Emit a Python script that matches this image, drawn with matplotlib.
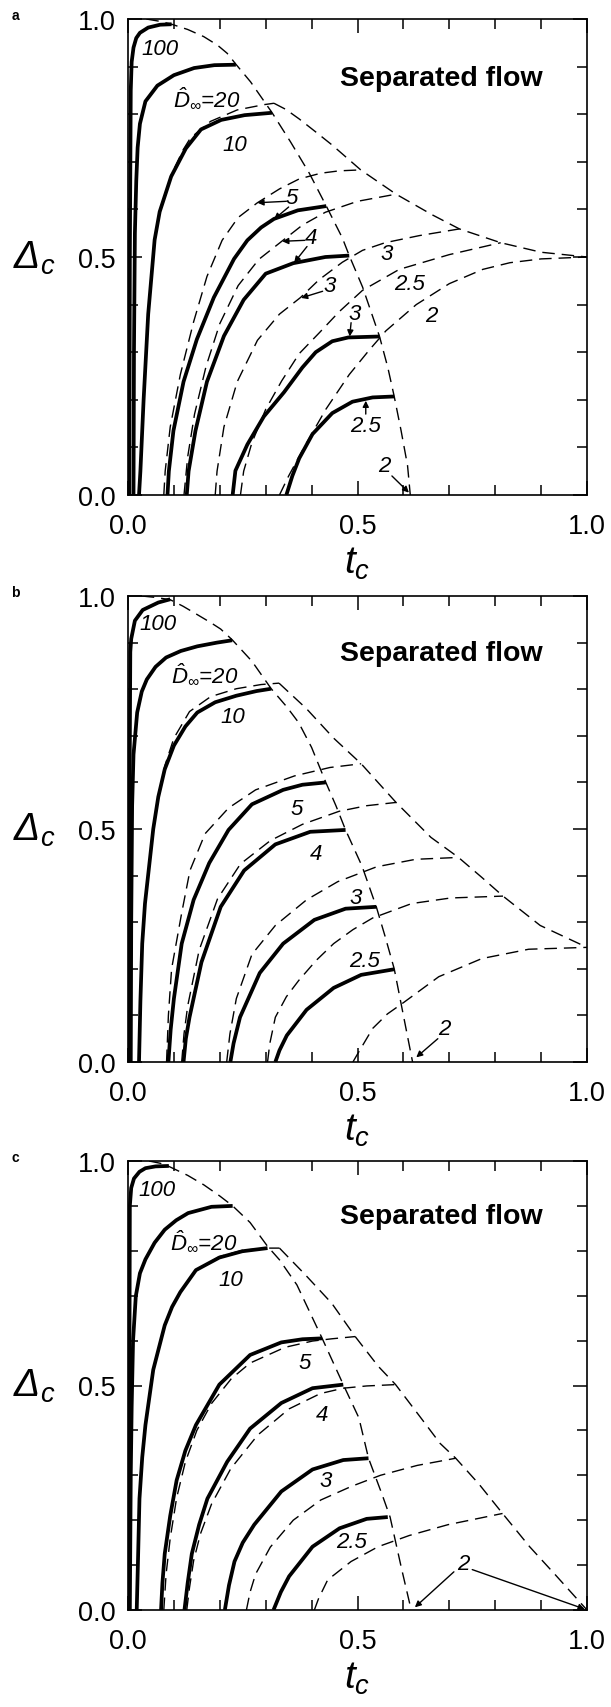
import numpy as np
import matplotlib
matplotlib.use("Agg")
import matplotlib.pyplot as plt
from matplotlib.ticker import MultipleLocator, FormatStrFormatter

plt.rcParams['font.family'] = ['Liberation Sans', 'DejaVu Sans']
plt.rcParams['mathtext.fontset'] = 'custom'
plt.rcParams['mathtext.rm'] = 'Liberation Sans:italic'
plt.rcParams['mathtext.it'] = 'Liberation Sans:italic'
plt.rcParams['mathtext.bf'] = 'Liberation Sans:bold'

# (t_c, Delta_c) points along each curve
# ---------------- panel a ----------------
a_s100 = [(0.003, 0.0), (0.004, 0.5), (0.006, 0.85), (0.008, 0.91), (0.012, 0.94), (0.018, 0.96),
          (0.026, 0.971), (0.044, 0.982), (0.07, 0.988), (0.095, 0.989)]
a_s20 = [(0.012, 0.0), (0.013, 0.3), (0.015, 0.55), (0.018, 0.66), (0.021, 0.73), (0.026, 0.78),
         (0.038, 0.827), (0.064, 0.86), (0.1, 0.882), (0.144, 0.897), (0.188, 0.903), (0.235, 0.904)]
a_s10 = [(0.024, 0.0), (0.027, 0.05), (0.034, 0.2), (0.044, 0.38), (0.058, 0.536), (0.069, 0.595),
         (0.094, 0.669), (0.126, 0.728), (0.159, 0.768), (0.203, 0.788), (0.254, 0.798), (0.314, 0.803)]
a_s5 = [(0.086, 0.0), (0.089, 0.05), (0.099, 0.135), (0.121, 0.238), (0.15, 0.327), (0.187, 0.415),
        (0.231, 0.496), (0.26, 0.535), (0.29, 0.562), (0.318, 0.58), (0.37, 0.598), (0.432, 0.607)]
a_s4 = [(0.128, 0.0), (0.132, 0.05), (0.147, 0.135), (0.172, 0.238), (0.209, 0.334), (0.252, 0.41),
        (0.3, 0.465), (0.36, 0.487), (0.43, 0.5), (0.482, 0.503)]
a_s3 = [(0.228, 0.0), (0.234, 0.051), (0.26, 0.106), (0.296, 0.165), (0.34, 0.216), (0.38, 0.268),
        (0.409, 0.3), (0.445, 0.323), (0.48, 0.331), (0.548, 0.333)]
a_s25 = [(0.345, 0.0), (0.358, 0.04), (0.373, 0.077), (0.402, 0.128), (0.445, 0.172), (0.489, 0.196),
         (0.533, 0.205), (0.58, 0.207)]

a_d10 = [(0.024, 0.0), (0.027, 0.05), (0.034, 0.2), (0.044, 0.38), (0.058, 0.536), (0.069, 0.595),
         (0.094, 0.672), (0.12, 0.725), (0.136, 0.75), (0.18, 0.785), (0.238, 0.809), (0.296, 0.82),
         (0.318, 0.823)]
a_d5 = [(0.078, 0.0), (0.081, 0.05), (0.092, 0.143), (0.114, 0.253), (0.143, 0.364), (0.172, 0.459),
        (0.205, 0.535), (0.24, 0.583), (0.282, 0.614), (0.33, 0.643), (0.373, 0.664), (0.42, 0.676),
        (0.46, 0.681), (0.507, 0.683)]
a_d4 = [(0.122, 0.0), (0.13, 0.08), (0.145, 0.17), (0.17, 0.27), (0.2, 0.36), (0.24, 0.44),
        (0.285, 0.495), (0.335, 0.533), (0.38, 0.567), (0.43, 0.594), (0.5, 0.617), (0.584, 0.632)]
a_d3 = [(0.19, 0.0), (0.194, 0.05), (0.209, 0.143), (0.238, 0.238), (0.282, 0.325), (0.33, 0.38),
        (0.376, 0.415), (0.416, 0.452), (0.467, 0.489), (0.511, 0.514), (0.56, 0.53), (0.635, 0.545),
        (0.722, 0.559)]
a_d25 = [(0.245, 0.0), (0.252, 0.05), (0.27, 0.11), (0.3, 0.18), (0.335, 0.24), (0.373, 0.297),
         (0.416, 0.34), (0.46, 0.385), (0.511, 0.43), (0.591, 0.474), (0.7, 0.505), (0.812, 0.53)]
a_d2 = [(0.33, 0.0), (0.35, 0.04), (0.387, 0.106), (0.431, 0.18), (0.482, 0.253), (0.526, 0.305),
        (0.562, 0.345), (0.628, 0.4), (0.7, 0.444), (0.773, 0.474), (0.832, 0.488), (0.9, 0.496),
        (1.0, 0.5)]
a_inner = [(0.04, 1.0), (0.07, 0.995), (0.095, 0.989), (0.13, 0.978), (0.165, 0.963), (0.195, 0.945),
           (0.216, 0.928), (0.235, 0.905), (0.267, 0.868), (0.314, 0.803), (0.354, 0.742),
           (0.395, 0.676), (0.432, 0.607), (0.467, 0.54), (0.482, 0.503), (0.511, 0.437),
           (0.548, 0.333), (0.566, 0.268), (0.58, 0.207), (0.595, 0.135), (0.609, 0.062), (0.615, 0.0)]
a_outer = [(0.318, 0.823), (0.344, 0.81), (0.373, 0.79), (0.41, 0.762), (0.445, 0.735), (0.507, 0.683),
           (0.584, 0.632), (0.664, 0.588), (0.722, 0.559), (0.812, 0.53), (0.9, 0.51), (1.0, 0.5)]
a_labels = [("100", 0.07, 0.937), ("D", 0.172, 0.834), ("10", 0.232, 0.737), ("5", 0.357, 0.625),
            ("4", 0.398, 0.542), ("3", 0.44, 0.44), ("3", 0.493, 0.382), ("3", 0.564, 0.507),
            ("2.5", 0.613, 0.444), ("2", 0.66, 0.378), ("2.5", 0.518, 0.146), ("2", 0.558, 0.062)]
a_arrows = [((0.345, 0.617), (0.282, 0.614)), ((0.35, 0.605), (0.318, 0.579)),
            ((0.385, 0.535), (0.336, 0.533)), ((0.39, 0.522), (0.362, 0.488)),
            ((0.424, 0.428), (0.377, 0.414)), ((0.486, 0.362), (0.483, 0.333)),
            ((0.518, 0.17), (0.518, 0.198)), ((0.575, 0.04), (0.612, 0.005))]

# ---------------- panel b ----------------
b_s100 = [(0.002, 0.0), (0.003, 0.5), (0.005, 0.88), (0.007, 0.908), (0.015, 0.947), (0.032, 0.97),
          (0.066, 0.986), (0.092, 0.993)]
b_s20 = [(0.006, 0.0), (0.007, 0.3), (0.009, 0.55), (0.012, 0.66), (0.02, 0.75), (0.03, 0.795),
         (0.041, 0.821), (0.06, 0.848), (0.083, 0.868), (0.115, 0.882), (0.151, 0.892), (0.194, 0.9),
         (0.227, 0.905)]
b_s10 = [(0.024, 0.0), (0.027, 0.13), (0.031, 0.254), (0.037, 0.34), (0.045, 0.411), (0.055, 0.5),
         (0.066, 0.569), (0.08, 0.628), (0.1, 0.679), (0.125, 0.72), (0.151, 0.75), (0.19, 0.772),
         (0.236, 0.786), (0.28, 0.796), (0.312, 0.801)]
b_s5 = [(0.088, 0.0), (0.093, 0.07), (0.1, 0.136), (0.117, 0.254), (0.143, 0.348), (0.177, 0.427),
        (0.219, 0.498), (0.27, 0.553), (0.338, 0.584), (0.38, 0.595), (0.431, 0.6)]
b_s4 = [(0.121, 0.0), (0.126, 0.05), (0.134, 0.096), (0.16, 0.214), (0.202, 0.333), (0.253, 0.411),
        (0.321, 0.467), (0.397, 0.494), (0.474, 0.498)]
b_s3 = [(0.223, 0.0), (0.23, 0.04), (0.244, 0.096), (0.287, 0.191), (0.338, 0.254), (0.406, 0.305),
        (0.474, 0.329), (0.541, 0.333)]
b_s25 = [(0.321, 0.0), (0.33, 0.025), (0.346, 0.057), (0.389, 0.112), (0.448, 0.159), (0.508, 0.187),
         (0.58, 0.199)]

b_d10 = [(0.024, 0.0), (0.027, 0.13), (0.031, 0.254), (0.037, 0.34), (0.045, 0.411), (0.055, 0.5),
         (0.066, 0.569), (0.08, 0.635), (0.1, 0.695), (0.134, 0.752), (0.18, 0.784), (0.236, 0.801),
         (0.29, 0.81), (0.329, 0.813)]
b_d5 = [(0.084, 0.0), (0.088, 0.1), (0.095, 0.2), (0.117, 0.32), (0.135, 0.411), (0.168, 0.49),
        (0.219, 0.545), (0.278, 0.584), (0.363, 0.614), (0.44, 0.632), (0.508, 0.64)]
b_d4 = [(0.117, 0.0), (0.122, 0.06), (0.13, 0.12), (0.155, 0.24), (0.195, 0.35), (0.245, 0.425),
        (0.31, 0.475), (0.38, 0.51), (0.46, 0.538), (0.52, 0.55), (0.584, 0.557)]
b_d3 = [(0.215, 0.0), (0.222, 0.06), (0.236, 0.136), (0.27, 0.231), (0.321, 0.293), (0.389, 0.348),
        (0.457, 0.387), (0.542, 0.419), (0.627, 0.435), (0.72, 0.439)]
b_d25 = [(0.304, 0.0), (0.309, 0.04), (0.321, 0.096), (0.345, 0.14), (0.372, 0.175), (0.41, 0.218),
         (0.448, 0.254), (0.49, 0.284), (0.533, 0.309), (0.618, 0.34), (0.703, 0.352), (0.817, 0.356)]
b_d2 = [(0.49, 0.0), (0.5, 0.017), (0.533, 0.072), (0.565, 0.103), (0.601, 0.128), (0.677, 0.183),
        (0.771, 0.222), (0.873, 0.242), (1.0, 0.246)]
b_inner = [(0.03, 1.0), (0.06, 0.997), (0.092, 0.992), (0.12, 0.978), (0.151, 0.96), (0.18, 0.943),
           (0.202, 0.929), (0.227, 0.906), (0.27, 0.86), (0.312, 0.801), (0.346, 0.762),
           (0.372, 0.728), (0.4, 0.675), (0.431, 0.6), (0.453, 0.55), (0.474, 0.498), (0.51, 0.42),
           (0.541, 0.333), (0.56, 0.27), (0.58, 0.2), (0.6, 0.1), (0.62, 0.0)]
b_outer = [(0.329, 0.813), (0.389, 0.758), (0.448, 0.695), (0.508, 0.64), (0.584, 0.557),
           (0.66, 0.482), (0.72, 0.439), (0.771, 0.396), (0.817, 0.356), (0.898, 0.293), (1.0, 0.246)]
b_labels = [("100", 0.066, 0.942), ("D", 0.168, 0.833), ("10", 0.228, 0.742), ("5", 0.368, 0.545),
            ("4", 0.41, 0.447), ("3", 0.495, 0.352), ("2.5", 0.516, 0.218), ("2", 0.69, 0.072)]
b_arrows = [((0.675, 0.05), (0.628, 0.01))]

# ---------------- panel c ----------------
c_s100 = [(0.002, 0.0), (0.003, 0.5), (0.004, 0.9), (0.007, 0.94), (0.013, 0.961), (0.025, 0.976),
          (0.038, 0.984), (0.06, 0.988), (0.089, 0.989)]
c_s20 = [(0.004, 0.0), (0.006, 0.3), (0.008, 0.453), (0.011, 0.6), (0.017, 0.699), (0.026, 0.75),
         (0.038, 0.781), (0.058, 0.818), (0.08, 0.847), (0.105, 0.868), (0.131, 0.884), (0.182, 0.898),
         (0.228, 0.9)]
c_s10 = [(0.019, 0.0), (0.022, 0.12), (0.025, 0.248), (0.031, 0.34), (0.038, 0.412), (0.055, 0.535),
         (0.08, 0.634), (0.096, 0.675), (0.114, 0.708), (0.148, 0.757), (0.199, 0.785), (0.249, 0.799),
         (0.304, 0.806)]
c_s5 = [(0.072, 0.0), (0.075, 0.06), (0.08, 0.125), (0.092, 0.21), (0.106, 0.289), (0.125, 0.355),
        (0.148, 0.412), (0.199, 0.502), (0.266, 0.568), (0.334, 0.596), (0.38, 0.603), (0.423, 0.605)]
c_s4 = [(0.123, 0.0), (0.13, 0.06), (0.139, 0.125), (0.155, 0.19), (0.173, 0.248), (0.216, 0.33),
        (0.266, 0.404), (0.334, 0.461), (0.402, 0.494), (0.469, 0.502)]
c_s3 = [(0.211, 0.0), (0.22, 0.055), (0.232, 0.108), (0.25, 0.15), (0.275, 0.19), (0.334, 0.264),
        (0.402, 0.313), (0.469, 0.334), (0.524, 0.338)]
c_s25 = [(0.317, 0.0), (0.333, 0.04), (0.351, 0.075), (0.402, 0.141), (0.461, 0.182), (0.52, 0.203),
         (0.566, 0.207)]

c_d10 = [(0.148, 0.757), (0.199, 0.787), (0.249, 0.801), (0.3, 0.806), (0.33, 0.806)]
c_d5 = [(0.078, 0.0), (0.083, 0.08), (0.092, 0.16), (0.106, 0.25), (0.125, 0.33), (0.15, 0.4),
        (0.182, 0.46), (0.225, 0.515), (0.266, 0.55), (0.342, 0.585), (0.402, 0.599), (0.444, 0.604),
        (0.495, 0.609)]
c_d4 = [(0.128, 0.0), (0.134, 0.05), (0.143, 0.11), (0.158, 0.17), (0.182, 0.236), (0.224, 0.315),
        (0.283, 0.39), (0.351, 0.448), (0.419, 0.482), (0.469, 0.494), (0.52, 0.499), (0.583, 0.502)]
c_d3 = [(0.258, 0.0), (0.266, 0.04), (0.278, 0.08), (0.31, 0.14), (0.36, 0.2), (0.42, 0.245),
        (0.486, 0.275), (0.55, 0.3), (0.63, 0.322), (0.714, 0.338)]
c_d25 = [(0.406, 0.0), (0.415, 0.025), (0.435, 0.067), (0.486, 0.108), (0.545, 0.141), (0.613, 0.166),
         (0.697, 0.19), (0.816, 0.215)]
c_inner = [(0.046, 1.0), (0.07, 0.995), (0.089, 0.988), (0.13, 0.968), (0.165, 0.947), (0.2, 0.922),
           (0.228, 0.9), (0.266, 0.863), (0.304, 0.81), (0.33, 0.78), (0.368, 0.724), (0.423, 0.605),
           (0.469, 0.502), (0.503, 0.428), (0.524, 0.338), (0.554, 0.256), (0.571, 0.207),
           (0.596, 0.092), (0.617, 0.0)]
c_outer = [(0.33, 0.806), (0.385, 0.748), (0.444, 0.683), (0.495, 0.609), (0.545, 0.543),
           (0.583, 0.502), (0.638, 0.428), (0.68, 0.371), (0.714, 0.338), (0.765, 0.28), (0.816, 0.215),
           (0.875, 0.141), (0.934, 0.075), (1.0, 0.0)]
c_labels = [("100", 0.063, 0.937), ("D", 0.165, 0.822), ("10", 0.224, 0.736), ("5", 0.385, 0.551),
            ("4", 0.423, 0.436), ("3", 0.431, 0.289), ("2.5", 0.486, 0.153), ("2", 0.731, 0.104)]
c_arrows = [((0.71, 0.085), (0.625, 0.006)), ((0.75, 0.09), (0.995, 0.002))]

FIG_W, FIG_H = 611, 1708
AX_LEFT, AX_W = 128, 459

panels = [
    dict(tag="a", top=20, bottom=496,
         solid=[a_s100, a_s20, a_s10, a_s5, a_s4, a_s3, a_s25],
         dashed=[a_d10, a_d5, a_d4, a_d3, a_d25, a_d2, a_inner, a_outer],
         labels=a_labels, arrows=a_arrows),
    dict(tag="b", top=597, bottom=1063,
         solid=[b_s100, b_s20, b_s10, b_s5, b_s4, b_s3, b_s25],
         dashed=[b_d10, b_d5, b_d4, b_d3, b_d25, b_d2, b_inner, b_outer],
         labels=b_labels, arrows=b_arrows),
    dict(tag="c", top=1162, bottom=1611,
         solid=[c_s100, c_s20, c_s10, c_s5, c_s4, c_s3, c_s25],
         dashed=[c_d10, c_d5, c_d4, c_d3, c_d25, c_inner, c_outer],
         labels=c_labels, arrows=c_arrows),
]

fig = plt.figure(figsize=(FIG_W / 100, FIG_H / 100), dpi=100)

for p in panels:
    h = p["bottom"] - p["top"]
    ax = fig.add_axes([AX_LEFT / FIG_W, (FIG_H - p["bottom"]) / FIG_H, AX_W / FIG_W, h / FIG_H])
    for pts in p["dashed"]:
        t, d = np.array(pts).T
        ax.plot(t, d, color='black', lw=1.0, dashes=(9, 5), zorder=2)
    for pts in p["solid"]:
        t, d = np.array(pts).T
        ax.plot(t, d, color='black', lw=2.7, solid_capstyle='butt', zorder=3)

    for txt, x, y in p["labels"]:
        if txt == "D":
            ax.text(x, y, r'$\hat{D}_{\infty}$=20', fontsize=16, style='italic',
                    ha='center', va='center')
        else:
            ax.text(x, y, txt, fontsize=16, style='italic', ha='center', va='center')
    for (x0, y0), (x1, y1) in p["arrows"]:
        ax.annotate('', xy=(x1, y1), xytext=(x0, y0),
                    arrowprops=dict(arrowstyle='-|>', color='black', lw=1.0,
                                    mutation_scale=9, shrinkA=0, shrinkB=0))

    ax.text(0.682, 0.862, "Separated flow", fontsize=20.5, fontweight='bold',
            ha='center', va='baseline')

    ax.set_xlim(0, 1)
    ax.set_ylim(0, 1)
    for axis in (ax.xaxis, ax.yaxis):
        axis.set_major_locator(MultipleLocator(0.5))
        axis.set_minor_locator(MultipleLocator(0.1))
        axis.set_major_formatter(FormatStrFormatter('%.1f'))
    ax.tick_params(which='both', direction='in', top=True, right=True, width=1.1,
                   labelsize=19.5)
    ax.tick_params(which='major', length=10)
    ax.tick_params(which='minor', length=7)
    ax.tick_params(axis='x', pad=13)
    ax.tick_params(axis='y', pad=9)
    for s in ax.spines.values():
        s.set_linewidth(1.2)

    ax.text(-0.205, 0.5, r'$\Delta_c$', transform=ax.transAxes, fontsize=28,
            ha='center', va='center')
    ax.text(0.5, -68 / h, r'$t_c$', transform=ax.transAxes, fontsize=28,
            ha='center', va='center')
    ax.text(-0.245, 1.0 + 4 / h, p["tag"], transform=ax.transAxes, fontsize=10,
            fontweight='bold', ha='center', va='center')

fig.savefig("out.png", dpi=100)
